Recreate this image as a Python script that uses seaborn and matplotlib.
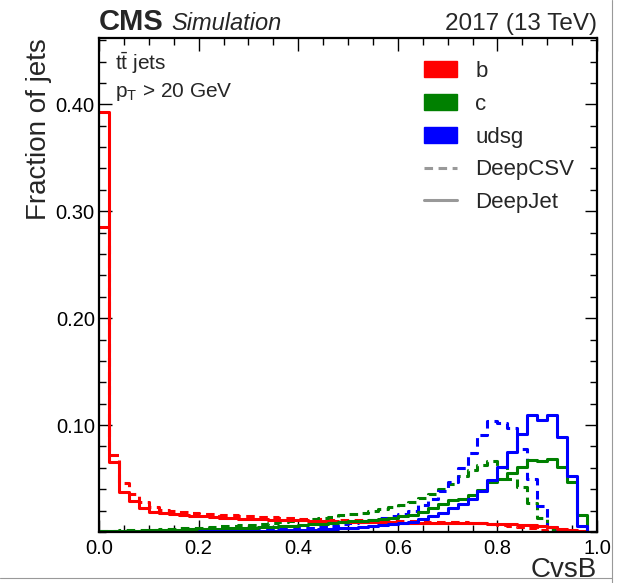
import numpy as np
import pandas as pd
import matplotlib
matplotlib.use("Agg")
import matplotlib.pyplot as plt
from matplotlib.patches import Patch
from matplotlib.lines import Line2D
from matplotlib.ticker import MultipleLocator
import seaborn as sns

# 50 bins of width 0.02 on CvsB in [0, 1]
bin_edges = np.linspace(0.0, 1.0, 51)
bin_centers = 0.5 * (bin_edges[:-1] + bin_edges[1:])

b_deepjet = [0.393, 0.065, 0.037, 0.029, 0.022, 0.019, 0.018, 0.017, 0.016, 0.015,
             0.0145, 0.014, 0.0135, 0.013, 0.0125, 0.012, 0.0118, 0.0115, 0.0112, 0.011,
             0.0108, 0.0105, 0.0102, 0.010, 0.0098, 0.0096, 0.0094, 0.0092, 0.009, 0.0089,
             0.0088, 0.0087, 0.0086, 0.0085, 0.0084, 0.0083, 0.0082, 0.0081, 0.008, 0.0079,
             0.0077, 0.0075, 0.007, 0.0065, 0.0058, 0.0045, 0.003, 0.0018, 0.0006, 0.0]
b_deepcsv = [0.285, 0.072, 0.046, 0.036, 0.028, 0.023, 0.021, 0.020, 0.019, 0.018,
             0.0172, 0.0165, 0.016, 0.0155, 0.015, 0.0145, 0.014, 0.0137, 0.0133, 0.013,
             0.0126, 0.0122, 0.0119, 0.0116, 0.0113, 0.011, 0.0108, 0.0106, 0.0104, 0.0103,
             0.0102, 0.010, 0.0099, 0.0097, 0.0095, 0.0093, 0.009, 0.0087, 0.0083, 0.0078,
             0.007, 0.006, 0.0048, 0.0035, 0.0022, 0.0012, 0.0005, 0.0002, 0.0, 0.0]
c_deepjet = [0.0005, 0.0008, 0.001, 0.0012, 0.0014, 0.0016, 0.0018, 0.002, 0.0022, 0.0024,
             0.0026, 0.0029, 0.0032, 0.0035, 0.0038, 0.0042, 0.0046, 0.005, 0.0055, 0.006,
             0.0066, 0.0072, 0.0078, 0.0085, 0.0092, 0.0099, 0.0107, 0.0116, 0.0125, 0.0135,
             0.0145, 0.016, 0.019, 0.022, 0.026, 0.030, 0.031, 0.0345, 0.039, 0.047,
             0.050, 0.055, 0.061, 0.067, 0.066, 0.068, 0.061, 0.047, 0.016, 0.0]
c_deepcsv = [0.0008, 0.0012, 0.0015, 0.0018, 0.002, 0.0023, 0.0026, 0.003, 0.0034, 0.0038,
             0.0042, 0.0047, 0.0052, 0.0058, 0.0064, 0.007, 0.0077, 0.0085, 0.0093, 0.0101,
             0.011, 0.012, 0.013, 0.0142, 0.0155, 0.0168, 0.0182, 0.0197, 0.0213, 0.023,
             0.025, 0.028, 0.032, 0.036, 0.040, 0.045, 0.052, 0.058, 0.063, 0.066,
             0.061, 0.050, 0.042, 0.027, 0.013, 0.003, 0.001, 0.0003, 0.0, 0.0]
udsg_deepjet = [0.0001, 0.0001, 0.0001, 0.0002, 0.0002, 0.0002, 0.0003, 0.0003, 0.0004, 0.0004,
                0.0005, 0.0006, 0.0007, 0.0008, 0.0009, 0.001, 0.0012, 0.0014, 0.0016, 0.0018,
                0.002, 0.0023, 0.0027, 0.0031, 0.0036, 0.0042, 0.0049, 0.0057, 0.0066, 0.0076,
                0.0088, 0.0098, 0.012, 0.015, 0.018, 0.022, 0.026, 0.031, 0.038, 0.049,
                0.061, 0.0745, 0.092, 0.109, 0.105, 0.109, 0.089, 0.052, 0.006, 0.0]
udsg_deepcsv = [0.0001, 0.0001, 0.0002, 0.0002, 0.0002, 0.0003, 0.0003, 0.0004, 0.0004, 0.0005,
                0.0006, 0.0007, 0.0008, 0.001, 0.0012, 0.0014, 0.0017, 0.002, 0.0024, 0.0029,
                0.0035, 0.0042, 0.005, 0.006, 0.0072, 0.0085, 0.0098, 0.011, 0.013, 0.0148,
                0.017, 0.020, 0.025, 0.031, 0.038, 0.047, 0.0595, 0.0735, 0.0907, 0.104,
                0.102, 0.097, 0.078, 0.050, 0.024, 0.005, 0.0015, 0.0005, 0.0, 0.0]

flavours = ["b", "c", "udsg"]
colours = {"b": "#ff0000", "c": "#008000", "udsg": "#0000ff"}
taggers = ["DeepCSV", "DeepJet"]
styles = {"DeepCSV": (0, (2.8, 1.8)), "DeepJet": "-"}
hists = {
    ("b", "DeepCSV"): b_deepcsv, ("c", "DeepCSV"): c_deepcsv, ("udsg", "DeepCSV"): udsg_deepcsv,
    ("b", "DeepJet"): b_deepjet, ("c", "DeepJet"): c_deepjet, ("udsg", "DeepJet"): udsg_deepjet,
}

sns.set_style("ticks")
plt.rcParams["font.family"] = ["Liberation Sans", "DejaVu Sans"]
plt.rcParams["mathtext.fontset"] = "custom"
plt.rcParams["mathtext.rm"] = "Liberation Sans"
plt.rcParams["mathtext.it"] = "Liberation Sans"
plt.rcParams["mathtext.bf"] = "Liberation Sans:bold"

fig = plt.figure(figsize=(6.29, 5.83), dpi=100)
ax = fig.add_axes([99 / 629, 51 / 583, 498 / 629, 494 / 583])

for tagger in taggers:
    for flav in flavours:
        df = pd.DataFrame({"cvsb": bin_centers, "frac": hists[(flav, tagger)]})
        sns.histplot(data=df, x="cvsb", weights="frac", bins=bin_edges.tolist(),
                     element="step", fill=False, color=colours[flav],
                     linestyle=styles[tagger], linewidth=2.2, ax=ax)

ax.set_xlim(0, 1)
ax.set_ylim(0, 0.462)
ax.set_xticks([0.0, 0.2, 0.4, 0.6, 0.8, 1.0])
ax.set_xticklabels(["0.0", "0.2", "0.4", "0.6", "0.8", "1.0"])
ax.set_yticks([0.1, 0.2, 0.3, 0.4])
ax.set_yticklabels(["0.10", "0.20", "0.30", "0.40"])
ax.xaxis.set_minor_locator(MultipleLocator(0.05))
ax.yaxis.set_minor_locator(MultipleLocator(0.02))
ax.tick_params(which="both", direction="in", top=True, right=True, labelsize=14.5,
               colors="black", width=1.0)
ax.tick_params(axis="y", pad=3)
ax.tick_params(axis="x", pad=5)
ax.tick_params(which="major", length=9)
ax.tick_params(which="minor", length=5)
for sp in ax.spines.values():
    sp.set_linewidth(1.6)
    sp.set_color("black")

ax.set_xlabel("CvsB", fontsize=20, ha="right", x=1.0, labelpad=-1)
ax.set_ylabel("Fraction of jets", fontsize=20, ha="right", y=1.0, labelpad=3)

fig.text(99 / 629, 1 - 30 / 583, "CMS", fontsize=21, fontweight="bold", ha="left", va="baseline")
fig.text(171 / 629, 1 - 30 / 583, "Simulation", fontsize=17, fontstyle="italic", ha="left", va="baseline")
fig.text(597 / 629, 1 - 30 / 583, "2017 (13 TeV)", fontsize=17.5, ha="right", va="baseline")

ax.text(0.033, 0.935, r"$\mathrm{t\bar{t}}$ jets", transform=ax.transAxes, fontsize=15, va="baseline")
ax.text(0.033, 0.881, r"$\mathrm{p_{T}}$ > 20 GeV", transform=ax.transAxes, fontsize=15, va="baseline")

handles = [Patch(facecolor=colours[f], edgecolor=colours[f], label=f) for f in flavours]
handles += [Line2D([], [], color="#999999", linestyle=styles[t], linewidth=2.2, label=t) for t in taggers]
ax.legend(handles=handles, loc="upper left", bbox_to_anchor=(0.622, 0.985), frameon=False,
          fontsize=16, handlelength=1.45, handleheight=0.7, handletextpad=0.85,
          labelspacing=0.53, borderpad=0.2)

fig.add_artist(Line2D([612 / 629, 612 / 629], [0, 1], color="#999999", linewidth=0.8))
fig.add_artist(Line2D([0, 612 / 629], [5 / 583, 5 / 583], color="#999999", linewidth=0.8))

fig.savefig("out.png", dpi=100)
